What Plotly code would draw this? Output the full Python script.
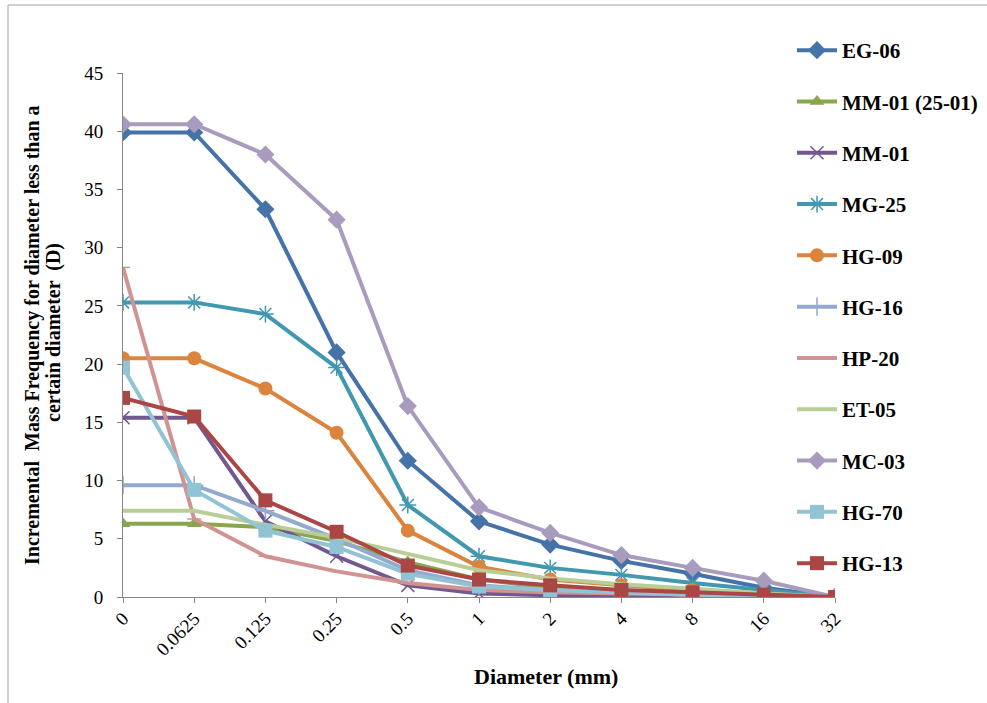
import plotly.graph_objects as go

categories = ['0', '0.0625', '0.125', '0.25', '0.5', '1', '2', '4', '8', '16', '32']

eg_06 = [39.9, 39.9, 33.3, 21.0, 11.7, 6.5, 4.5, 3.1, 2.0, 0.8, 0]
mm_01_2501 = [6.3, 6.3, 6.0, 4.8, 3.0, 1.5, 0.8, 0.4, 0.2, 0.1, 0]
mm_01 = [15.4, 15.4, 6.5, 3.5, 1.0, 0.3, 0.15, 0.1, 0.05, 0.02, 0]
mg_25 = [25.3, 25.3, 24.3, 19.7, 7.9, 3.5, 2.5, 1.9, 1.2, 0.6, 0]
hg_09 = [20.5, 20.5, 17.9, 14.1, 5.7, 2.6, 1.5, 1.0, 0.6, 0.3, 0]
hg_16 = [9.6, 9.6, 7.4, 5.0, 2.3, 1.0, 0.6, 0.4, 0.2, 0.1, 0]
hp_20 = [28.3, 6.7, 3.5, 2.2, 1.2, 0.6, 0.4, 0.3, 0.2, 0.1, 0]
et_05 = [7.4, 7.4, 6.2, 5.1, 3.7, 2.3, 1.6, 1.1, 0.7, 0.3, 0]
mc_03 = [40.6, 40.6, 38.0, 32.4, 16.4, 7.7, 5.5, 3.6, 2.5, 1.4, 0]
hg_70 = [19.7, 9.2, 5.7, 4.3, 2.0, 0.9, 0.6, 0.4, 0.2, 0.1, 0]
hg_13 = [17.1, 15.5, 8.3, 5.6, 2.7, 1.5, 1.0, 0.6, 0.4, 0.2, 0]

series = [
    ("EG-06", eg_06, "#4572A7", "diamond", 14),
    ("MM-01 (25-01)", mm_01_2501, "#89A54E", "triangle-up", 13),
    ("MM-01", mm_01, "#71588F", "x-thin", 13),
    ("MG-25", mg_25, "#4198AF", "asterisk", 14),
    ("HG-09", hg_09, "#DB843D", "circle", 14),
    ("HG-16", hg_16, "#93A9CF", "cross-thin", 13),
    ("HP-20", hp_20, "#D19392", "line-ew", 10),
    ("ET-05", et_05, "#B9CD96", "line-ew", 1),
    ("MC-03", mc_03, "#A99BBD", "diamond", 14),
    ("HG-70", hg_70, "#92C3D5", "square", 14),
    ("HG-13", hg_13, "#AA4643", "square", 14),
]

x_idx = list(range(len(categories)))
fig = go.Figure()
for i, (name, vals, color, sym, size) in enumerate(series):
    thin = sym in ("x-thin", "cross-thin", "asterisk", "line-ew")
    fig.add_trace(go.Scatter(
        x=x_idx, y=vals, name=name, mode="lines+markers",
        legendgroup=f"g{i}",
        line=dict(color=color, width=4),
        marker=dict(symbol=sym, size=size, color=color,
                    line=dict(color=color, width=1.5 if thin else 0)),
    ))

L, R, T, B = 123, 152, 73, 106
W, H = 987, 703
pw, ph = W - L - R, H - T - B

def px_x(p):
    return (p - L) / pw

def px_y(p):
    return (H - B - p) / ph

serif = "Liberation Serif"
fig.update_layout(
    width=W, height=H, autosize=False,
    margin=dict(l=L, r=R, t=T, b=B, autoexpand=False),
    paper_bgcolor="white", plot_bgcolor="white",
    font=dict(family=serif, color="black", size=19),
    legend=dict(
        x=px_x(792), y=px_y(30), xanchor="left", yanchor="top",
        font=dict(family=serif, size=21, color="black", weight="bold"),
        tracegroupgap=21, itemwidth=40, bgcolor="rgba(0,0,0,0)",
        maxheight=700,
    ),
    xaxis=dict(
        range=[0, 10], tickmode="array", tickvals=x_idx, ticktext=categories,
        tickangle=-45, showgrid=False, zeroline=False,
        showline=True, linecolor="#868686", linewidth=1,
        ticks="outside", ticklen=5, tickcolor="#868686",
        ticklabelstandoff=-3,
        tickfont=dict(family=serif, size=19, color="black"),
    ),
    yaxis=dict(
        range=[0, 45], tickmode="array", tickvals=list(range(0, 46, 5)),
        showgrid=False, zeroline=False,
        showline=True, linecolor="#868686", linewidth=1,
        ticks="outside", ticklen=5, tickcolor="#868686",
        ticklabelstandoff=10,
        tickfont=dict(family=serif, size=19, color="black"),
    ),
    annotations=[
        dict(text="<b>Diameter (mm)</b>", xref="paper", yref="paper",
             x=px_x(546), y=px_y(676), xanchor="center", yanchor="middle",
             showarrow=False,
             font=dict(family=serif, size=22, color="black")),
        dict(text="<b>Incremental  Mass Frequency for diameter less than a</b>",
             xref="paper", yref="paper", x=px_x(32), y=px_y(335), textangle=-90,
             xanchor="center", yanchor="middle", showarrow=False,
             font=dict(family=serif, size=20, color="black")),
        dict(text="<b>certain diameter  (D)</b>",
             xref="paper", yref="paper", x=px_x(53), y=px_y(333), textangle=-90,
             xanchor="center", yanchor="middle", showarrow=False,
             font=dict(family=serif, size=20, color="black")),
    ],
    shapes=[
        dict(type="line", xref="paper", yref="paper",
             x0=px_x(8), x1=px_x(1000), y0=px_y(5), y1=px_y(5),
             line=dict(color="#A0A0A0", width=1)),
        dict(type="line", xref="paper", yref="paper",
             x0=px_x(8), x1=px_x(8), y0=px_y(5), y1=px_y(710),
             line=dict(color="#A0A0A0", width=1)),
    ],
)

fig.write_html("out.html")
